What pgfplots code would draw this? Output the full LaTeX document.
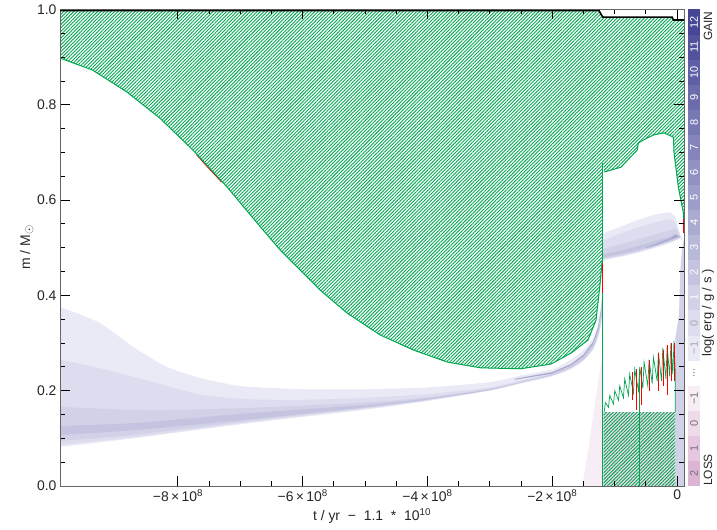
\documentclass[border=0pt]{standalone}
\usepackage{pgfplots}
\pgfplotsset{compat=1.18}
\usepackage{fontspec}
\setmainfont{Liberation Sans}
\usetikzlibrary{patterns.meta}
\definecolor{hg}{RGB}{0,166,81}
\definecolor{cbLow}{RGB}{234,234,246}
\definecolor{cbHigh}{RGB}{70,70,150}
\definecolor{lsLow}{RGB}{247,238,245}
\definecolor{lsHigh}{RGB}{220,180,212}
\colorlet{gm1}{cbLow}
\colorlet{g0}{cbHigh!7.7!cbLow}
\colorlet{g1}{cbHigh!15.4!cbLow}
\colorlet{g2}{cbHigh!23.1!cbLow}
\colorlet{g3}{cbHigh!30.8!cbLow}
\colorlet{g4}{cbHigh!40!cbLow}
\colorlet{l0}{lsHigh!33!lsLow}
\tikzset{hatch/.style={pattern={Lines[angle=45,distance=2.4bp,line width=0.9bp]},pattern color=hg}}
\begin{document}
\begin{tikzpicture}
\begin{axis}[name=ax, scale only axis, width=624bp, height=476.5bp,
 xmin=-9.89, xmax=0.11, ymin=0, ymax=1,
 set layers, axis on top,
 axis line style={draw=black!60, line width=1bp},
 tick style={draw=black, line width=0.9bp},
 major tick length=10bp, minor tick length=5bp,
 tick align=inside,
 xtick={-8,-6,-4,-2,0},
 xticklabels={{−8\,×\,10\textsuperscript{8}},{−6\,×\,10\textsuperscript{8}},{−4\,×\,10\textsuperscript{8}},{−2\,×\,10\textsuperscript{8}},0},
 minor x tick num=3,
 ytick={0,0.2,0.4,0.6,0.8,1},
 yticklabels={0.0,0.2,0.4,0.6,0.8,1.0},
 minor y tick num=3,
 tick label style={font=\fontsize{14}{16}\selectfont, text=black!85},
 label style={font=\fontsize{14}{16}\selectfont, text=black!85},
 xlabel={t / yr \ − \ 1.1 \ * \ 10\textsuperscript{10}},
 ylabel={m\ /\ M{\fontsize{12}{12}\selectfont\raisebox{-0.35ex}{$\odot$}}},
 ylabel style={yshift=-3bp},
]
% --- loss region (pink)
\addplot[fill=lsLow, draw=none] coordinates {(-1.52,0)(-1.42,0.08)(-1.32,0.17)(-1.24,0.24)(-1.19,0.28)(-1.19,0)};
\addplot[fill=l0, draw=none] coordinates {(-1.19,0)(-1.19,0.155)(-0.03,0.155)(-0.03,0)};
% --- core H burning bands (left)
\addplot[fill=gm1, draw=none, smooth, tension=0.4] coordinates {(-9.89,0.376)(-9.25,0.342)(-8.72,0.292)(-8.18,0.25)(-7.65,0.227)(-7.12,0.212)(-6.84,0.208)(-6,0.203)(-5,0.203)(-4,0.207)(-3,0.218)(-2.5,0.232)(-2,0.245)(-1.7,0.265)(-1.5,0.285)(-1.35,0.31)(-1.27,0.34)(-1.22,0.38)(-1.19,0.42)
 (-1.19,0.38)(-1.22,0.34)(-1.27,0.31)(-1.35,0.285)(-1.5,0.262)(-1.7,0.245)(-2,0.23)(-2.5,0.215)(-3,0.2)(-4,0.178)(-5,0.16)(-6.84,0.132)(-8.72,0.1)(-9.89,0.082)};
\addplot[fill=g0, draw=none, smooth, tension=0.4] coordinates {(-9.89,0.265)(-9.25,0.247)(-8.45,0.22)(-7.65,0.192)(-6.84,0.182)(-6,0.181)(-5,0.185)(-4,0.193)(-3,0.207)(-2.5,0.222)(-2,0.238)(-1.7,0.255)(-1.5,0.275)(-1.35,0.3)(-1.27,0.33)(-1.22,0.37)(-1.19,0.41)
 (-1.19,0.383)(-1.22,0.343)(-1.27,0.313)(-1.35,0.288)(-1.5,0.265)(-1.7,0.248)(-2,0.232)(-2.5,0.217)(-3,0.202)(-4,0.18)(-5,0.162)(-6.84,0.134)(-8.72,0.102)(-9.89,0.086)};
\addplot[fill=g1, draw=none, smooth, tension=0.4] coordinates {(-9.89,0.166)(-8.45,0.159)(-6.84,0.164)(-5,0.175)(-4,0.186)(-3,0.204)(-2.5,0.219)(-2,0.235)(-1.7,0.252)(-1.5,0.271)(-1.35,0.296)(-1.27,0.325)(-1.22,0.36)(-1.19,0.4)
 (-1.19,0.386)(-1.22,0.346)(-1.27,0.316)(-1.35,0.29)(-1.5,0.267)(-1.7,0.249)(-2,0.233)(-2.5,0.218)(-3,0.202)(-4,0.181)(-5,0.164)(-6.84,0.137)(-8.72,0.107)(-9.89,0.095)};
\addplot[fill=g2, draw=none, smooth, tension=0.4] coordinates {(-9.89,0.126)(-8.72,0.132)(-6.84,0.153)(-5,0.17)(-4,0.184)(-3,0.203)(-2.5,0.218)(-2,0.234)(-1.7,0.251)(-1.5,0.269)(-1.35,0.293)(-1.27,0.322)(-1.22,0.355)(-1.19,0.394)
 (-1.19,0.388)(-1.22,0.349)(-1.27,0.318)(-1.35,0.291)(-1.5,0.267)(-1.7,0.249)(-2,0.233)(-2.5,0.217)(-3,0.201)(-4,0.181)(-5,0.165)(-6.84,0.14)(-8.72,0.117)(-9.89,0.107)};
\addplot[fill=g4, draw=none] coordinates {(-2.6,0.225)(-2,0.239)(-1.7,0.256)(-1.5,0.276)(-1.35,0.302)(-1.27,0.332)(-1.22,0.37)(-1.19,0.41)(-1.19,0.402)(-1.22,0.362)(-1.27,0.326)(-1.35,0.297)(-1.5,0.272)(-1.7,0.253)(-2,0.236)(-2.6,0.223)};
% --- H shell bands (right)
\addplot[fill=gm1, draw=none] coordinates {(-1.19,0.53)(-0.91,0.544)(-0.64,0.558)(-0.38,0.569)(-0.11,0.575)(-0.03,0.565)(0.05,0.527)(0.08,0.52)(0.08,0.515)(0.05,0.52)(-0.11,0.51)(-0.38,0.499)(-0.64,0.489)(-0.91,0.481)(-1.19,0.474)};
\addplot[fill=g0, draw=none] coordinates {(-1.19,0.515)(-0.91,0.53)(-0.64,0.542)(-0.38,0.553)(-0.11,0.56)(-0.03,0.553)(0.05,0.525)(0.05,0.52)(-0.11,0.511)(-0.38,0.5)(-0.64,0.49)(-0.91,0.482)(-1.19,0.475)};
\addplot[fill=g1, draw=none] coordinates {(-1.19,0.497)(-0.91,0.507)(-0.64,0.517)(-0.38,0.527)(-0.11,0.537)(-0.03,0.54)(0.05,0.523)(0.05,0.521)(-0.11,0.513)(-0.38,0.502)(-0.64,0.492)(-0.91,0.484)(-1.19,0.477)};
\addplot[fill=g2, draw=none] coordinates {(-1.19,0.486)(-0.91,0.494)(-0.64,0.503)(-0.38,0.513)(-0.11,0.523)(-0.03,0.53)(0.05,0.523)(-0.11,0.515)(-0.38,0.505)(-0.64,0.495)(-0.91,0.487)(-1.19,0.479)};
\addplot[fill=g4, draw=none] coordinates {(-0.5,0.5)(-0.3,0.51)(-0.11,0.52)(-0.03,0.527)(0.04,0.524)(-0.11,0.517)(-0.3,0.507)(-0.5,0.499)};
% --- right edge strip
\addplot[fill=g1, draw=none] coordinates {(-0.03,0)(-0.03,0.31)(0.03,0.36)(0.05,0.45)(0.08,0.5)(0.11,0.52)(0.11,0)};
% --- convective envelope
\addplot[draw=none, preaction={fill=white}, hatch] coordinates {(-9.89,0.898)(-9.37,0.873)(-8.82,0.827)(-8.29,0.772)(-7.76,0.705)(-7.21,0.627)(-6.68,0.544)(-6.36,0.495)(-6.04,0.453)(-5.72,0.411)(-5.29,0.363)(-4.76,0.317)(-4.22,0.285)(-3.68,0.260)(-3.15,0.248)(-2.51,0.246)(-2.02,0.256)(-1.70,0.279)(-1.43,0.306)(-1.30,0.348)(-1.24,0.418)(-1.20,0.474)(-1.19,0.474)(-1.19,0.678)(-1.17,0.659)(-0.90,0.669)(-0.75,0.69)(-0.64,0.705)(-0.62,0.72)(-0.5,0.729)(-0.37,0.737)(-0.21,0.741)(-0.06,0.732)(-0.05,0.699)(0.02,0.627)(0.10,0.573)(0.11,0.552)(0.11,0.978)(-0.06,0.978)(-0.08,0.984)(-1.19,0.984)(-1.22,0.99)(-1.25,1.0)(-9.89,1.0)};
% --- convective core
\addplot[draw=none, hatch] coordinates {(-1.18,0)(-1.18,0.155)(-0.03,0.155)(-0.03,0)};
\addplot[hg, line width=0.7bp] coordinates {(-1.17,0.155)(-1.15,0.175)(-1.10,0.165)(-1.08,0.19)(-1.02,0.172)(-1.0,0.20)(-0.94,0.18)(-0.92,0.21)(-0.86,0.185)(-0.84,0.225)(-0.78,0.19)(-0.76,0.235)(-0.70,0.195)(-0.68,0.245)(-0.62,0.2)(-0.60,0.25)(-0.55,0.205)(-0.53,0.26)(-0.47,0.21)(-0.45,0.265)(-0.40,0.215)(-0.38,0.27)(-0.32,0.22)(-0.30,0.28)(-0.25,0.22)(-0.23,0.29)(-0.18,0.225)(-0.16,0.295)(-0.12,0.23)(-0.10,0.30)(-0.07,0.235)(-0.05,0.305)(-0.03,0.24)(-0.03,0.155)};
\addplot[hg, line width=0.8bp] coordinates {(-0.61,0) (-0.61,0.245)};
\addplot[red, line width=0.8bp] coordinates {(-0.72,0.18)(-0.72,0.24)};
\addplot[red, line width=0.8bp] coordinates {(-0.66,0.16)(-0.66,0.245)};
\addplot[red, line width=0.8bp] coordinates {(-0.58,0.17)(-0.58,0.25)};
\addplot[red, line width=0.8bp] coordinates {(-0.45,0.2)(-0.45,0.265)};
\addplot[red, line width=0.8bp] coordinates {(-0.30,0.2)(-0.30,0.28)};
\addplot[red, line width=0.8bp] coordinates {(-0.22,0.21)(-0.22,0.285)};
\addplot[red, line width=0.8bp] coordinates {(-0.16,0.19)(-0.16,0.295)};
\addplot[red, line width=0.8bp] coordinates {(-0.10,0.22)(-0.10,0.30)};
\addplot[red, line width=0.8bp] coordinates {(-0.05,0.22)(-0.05,0.30)};
% --- boundaries
\addplot[red, line width=1bp] coordinates {(-7.7,0.695)(-7.5,0.666)(-7.3,0.638)};
\addplot[hg, line width=1bp] coordinates {(-9.89,0.898)(-9.37,0.873)(-8.82,0.827)(-8.29,0.772)(-7.76,0.705)(-7.21,0.627)(-6.68,0.544)(-6.36,0.495)(-6.04,0.453)(-5.72,0.411)(-5.29,0.363)(-4.76,0.317)(-4.22,0.285)(-3.68,0.260)(-3.15,0.248)(-2.51,0.246)(-2.02,0.256)(-1.70,0.279)(-1.43,0.306)(-1.30,0.348)(-1.24,0.418)(-1.20,0.474)};
\addplot[hg, line width=1.2bp] coordinates {(-1.19,0)(-1.19,0.678)};
\addplot[red, line width=1bp] coordinates {(-1.19,0.405)(-1.19,0.468)};
\addplot[hg, line width=1bp] coordinates {(-1.17,0.659)(-0.90,0.669)(-0.75,0.69)(-0.64,0.705)(-0.62,0.72)(-0.5,0.729)(-0.37,0.737)(-0.21,0.741)(-0.06,0.732)(-0.05,0.699)(0.02,0.627)(0.10,0.573)(0.11,0.552)};
\addplot[red, line width=1.2bp] coordinates {(0.1,0.53)(0.1,0.56)};
% --- total mass
\addplot[black, line width=1.6bp, on layer=axis foreground] coordinates {(-9.89,0.9975)(-1.25,0.9975)(-1.22,0.99)(-1.19,0.984)(-0.08,0.984)(-0.06,0.978)(0.11,0.978)};
\end{axis}
% --- colour bar
\def\h{25.0789}
\begin{scope}[shift={(ax.south east)}]
 \foreach \i/\lab in {0/−1,1/0,2/1,3/2,4/3,5/4,6/5,7/6,8/7,9/8,10/9,11/10,12/11,13/12}{
   \pgfmathsetmacro\p{100*\i/13}
   \pgfmathsetmacro\yb{(5+\i)*\h}
   \pgfmathsetmacro\yt{(6+\i)*\h}
   \pgfmathsetmacro\ym{(5.5+\i)*\h}
   \fill[cbHigh!\p!cbLow] (4bp,\yb bp) rectangle (16bp,\yt bp);
   \ifnum\i<2 \def\tc{black!35}\else\def\tc{white}\fi
   \node[rotate=90, text=\tc, font=\fontsize{11}{12}\selectfont, inner sep=0pt] at (10bp,\ym bp) {\lab};
 }
 \foreach \i/\lab in {0/2,1/1,2/0,3/−1}{
   \pgfmathsetmacro\p{100*(3-\i)/3}
   \pgfmathsetmacro\yb{\i*\h}
   \pgfmathsetmacro\yt{(1+\i)*\h}
   \pgfmathsetmacro\ym{(0.5+\i)*\h}
   \fill[lsHigh!\p!lsLow] (4bp,\yb bp) rectangle (16bp,\yt bp);
   \node[rotate=90, text=black!55, font=\fontsize{11}{12}\selectfont, inner sep=0pt] at (10bp,\ym bp) {\lab};
 }
 \node[rotate=90, text=black!55, font=\fontsize{11}{12}\selectfont, inner sep=0pt] at (10bp,{4.5*\h bp}) {...};
 \node[rotate=90, text=black!85, font=\fontsize{12}{13}\selectfont] at (24bp,460bp) {GAIN};
 \node[rotate=90, text=black!85, font=\fontsize{12}{13}\selectfont] at (24bp,16bp) {LOSS};
 \node[rotate=90, text=black!85, font=\fontsize{13}{14}\selectfont] at (24bp,173bp) {log(\ erg\ /\ g\ /\ s\ )};
\end{scope}
\pgfresetboundingbox
\path[use as bounding box] ([xshift=-60bp,yshift=-44bp]ax.south west) rectangle ([xshift=33bp,yshift=9.5bp]ax.north east);
\end{tikzpicture}
\end{document}
